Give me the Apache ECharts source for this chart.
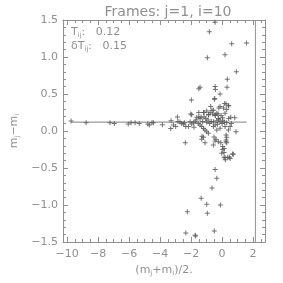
<!DOCTYPE html>
<html><head><meta charset="utf-8">
<script src="https://cdn.jsdelivr.net/npm/echarts@6/dist/echarts.min.js"></script>
<style>html,body{margin:0;padding:0;background:#fff}#c{width:283px;height:283px}</style>
</head><body><div id="c"></div>
<script>
var titleText = 'Frames: j=1, i=10';
var Tij = 0.12;
var dTij = 0.15;
var vlineX = 2.15;
var xRange = [-10.26, 2.77];
var yRange = [-1.5, 1.5];

var highPts = [[-0.45,1.47],[-0.82,1.34],[0.62,1.18],[1.58,1.19],[-0.95,0.99],[0.19,1.03],[0.92,0.80],[0.34,0.70],
[-1.42,0.59],[-1.50,0.57],[-0.45,0.60],[0.32,0.59],[-0.43,0.56],[-0.13,0.50],[-1.98,0.42],[-0.50,0.43],[-0.47,0.44],
[0.17,0.37],[-0.21,0.31],[0.43,0.34],[0.30,0.29]];

var upperPts = [[-1.96,0.22],[-1.5,0.25],[-1.2,0.25],[-0.99,0.27],[-0.65,0.28],
[-1.5,0.19],[-1.42,0.17],[-1.16,0.19],[-1.05,0.17],[-0.86,0.22],[-0.6,0.23],[-0.43,0.21],[-0.26,0.23],[-0.06,0.21],[0.04,0.18],[0.19,0.24],[0.43,0.17],[0.82,0.18],
[-2.88,0.19],[-2.02,0.23],[-1.63,0.185],[-1.35,0.19],[-0.73,0.33],[-0.13,0.33],[0.09,0.31],[0.26,0.365],[0.41,0.34],[-0.34,0.24],[-0.24,0.17],[-0.88,0.22],[-0.77,0.25],[-1.16,0.25],[-0.56,0.28],[-0.45,0.22],[0.56,0.185]];

var linePts = [[-9.74,0.135],[-8.77,0.11],[-7.23,0.11],[-6.95,0.10],[-6.05,0.095],[-5.87,0.11],[-5.61,0.11],[-5.34,0.10],[-4.79,0.095],[-4.69,0.08],[-4.52,0.11],[-4.43,0.11],[-3.85,0.085],[-3.29,0.14],[-3.31,0.035],[-3.14,0.08],[-2.84,0.13],[-2.71,0.12],[-2.6,0.10],[-2.99,0.06],[-2.49,0.095],[-2.43,0.11],[-2.34,0.06],[-2.17,0.06],[-1.96,0.095],[-1.85,0.11],[-1.74,0.125],[-1.53,0.10],[-1.42,0.08],[-1.31,0.06],[-1.2,0.035],[-2.06,0.125],[-1.81,0.05],[-1.68,0.15],
[-1.1,0.014],[-0.99,-0.01],[-0.88,-0.03],
[-0.56,0.125],[-0.34,0.14],[-0.13,0.125],[0.04,0.14],
[-0.56,0.06],[-0.34,0.014],[-0.13,0.036],[0.19,0.06],[0.41,0.014],[0.52,0.06],[0.9,-0.01],
[-1.0,0.12],[-0.8,0.10],[-0.7,0.13],[-0.3,0.09],[0.0,0.10],[0.3,0.11],[-1.25,0.13],[-0.9,0.15],[-0.2,0.16],[0.15,0.12],[0.6,0.10],[-0.45,0.08]];

var negPts = [[-2.37,-0.16],[-1.29,-0.07],[-1.31,-0.11],[-1.2,-0.085],[-1.1,-0.16],
[-0.52,-0.08],[-0.39,-0.11],[-0.24,-0.145],[-0.08,-0.16],[0.04,-0.21],[0.13,-0.235],[0.04,-0.25],
[0.26,-0.054],[0.30,-0.085],[0.26,-0.12],[0.30,-0.16],[0.26,-0.145],
[-0.02,-0.30],[0.13,-0.355],[0.47,-0.355],[0.67,-0.31],
[-0.56,-0.19],[-0.45,-0.135],[0.13,-0.29],[0.19,-0.36],[0.37,-0.355],[0.52,-0.37],[0.73,-0.315],[0.21,-0.39]];

var lowPts = [[-0.45,-0.52],[-0.34,-0.64],[-0.65,-0.77],[-1.35,-0.91],[-0.99,-0.99],[-0.11,-1.0],[-2.24,-1.09],[-0.95,-1.11],[-2.34,-1.38],[-1.74,-1.41],[-1.70,-1.42],[-0.5,-1.35]];

var allPts = highPts.concat(upperPts, linePts, negPts, lowPts);
var xs = allPts.map(function(p){return p[0];});
var hMin = Math.min.apply(null, xs), hMax = Math.max.apply(null, xs);

var FG = '#909090';
var FONT = 'DejaVu Sans';
var plusPath = 'path://M2,0H3V2H5V3H3V5H2V3H0V2H2Z';
function fmt(v){ var s = (Math.abs(v) < 1e-9 ? 0 : v).toString(); return s.replace('-', '\u2212'); }
function fmtY(v){ var s = (Math.abs(v) < 1e-9 ? 0 : v).toFixed(1); return s.replace('-', '\u2212'); }

var axisCommon = {
  axisLine: {show: true, onZero: false, lineStyle: {color: FG, width: 1}},
  axisTick: {show: true, inside: true, length: 5, lineStyle: {color: FG}},
  splitLine: {show: false}
};
var rich = {
  b: {fontFamily: FONT, fontSize: 11, color: FG},
  s: {fontFamily: FONT, fontSize: 7, color: FG, verticalAlign: 'bottom', padding: [6,0,0,0]}
};
var grich = {
  b: {fontFamily: FONT, fontSize: 11, fill: FG},
  s: {fontFamily: FONT, fontSize: 7, fill: FG, verticalAlign: 'bottom', padding: [6,0,0,0]}
};
var xMinor = {show: true, splitNumber: 4, length: 3, lineStyle: {color: FG}};
var yMinor = {show: true, splitNumber: 5, length: 3, lineStyle: {color: FG}};

var chart = echarts.init(document.getElementById('c'), null, {renderer: 'canvas'});
chart.setOption({
  animation: false,
  backgroundColor: '#fff',
  title: {text: titleText, left: 163, top: 0, textAlign: 'center',
    textStyle: {fontFamily: FONT, fontSize: 14, fontWeight: 'normal', color: FG}},
  grid: {left: 63, right: 18, top: 20, bottom: 41, containLabel: false},
  xAxis: [
    Object.assign({type: 'value', position: 'bottom', min: xRange[0], max: xRange[1], splitNumber: 6,
      axisLabel: {formatter: fmt, fontFamily: FONT, fontSize: 11, color: FG, margin: 7, showMinLabel: false, showMaxLabel: false},
      name: '{b|(m}{s|j}{b|+m}{s|i}{b|)/2.}', nameLocation: 'middle', nameGap: 21,
      nameTextStyle: {rich: rich}}, axisCommon, {minorTick: xMinor}),
    Object.assign({type: 'value', position: 'top', min: xRange[0], max: xRange[1], splitNumber: 6,
      axisLabel: {show: false}}, axisCommon, {minorTick: xMinor})
  ],
  yAxis: [
    Object.assign({type: 'value', position: 'left', min: yRange[0], max: yRange[1], interval: 0.5,
      axisLabel: {formatter: fmtY, fontFamily: FONT, fontSize: 11, color: FG, margin: 5},
      name: '{b|m}{s|j}{b|\u2212m}{s|i}', nameLocation: 'middle', nameGap: 33, nameRotate: 90,
      nameTextStyle: {rich: rich}}, axisCommon, {minorTick: yMinor}),
    Object.assign({type: 'value', position: 'right', min: yRange[0], max: yRange[1], interval: 0.5,
      axisLabel: {show: false}}, axisCommon, {minorTick: yMinor})
  ],
  graphic: [
    {type: 'text', left: 71, top: 27, style: {text: '{b|T}{s|ij}{b|:   ' + Tij.toFixed(2) + '}', fill: FG, rich: grich}},
    {type: 'text', left: 71, top: 41, style: {text: '{b|\u03b4T}{s|ij}{b|:   ' + dTij.toFixed(2) + '}', fill: FG, rich: grich}}
  ],
  series: [
    {type: 'line', xAxisIndex: 0, yAxisIndex: 0, data: [[hMin, Tij], [hMax, Tij]], symbol: 'none',
      lineStyle: {color: '#808080', width: 1}, z: 2, silent: true},
    {type: 'line', xAxisIndex: 0, yAxisIndex: 0, data: [[vlineX, yRange[0]], [vlineX, yRange[1]]], symbol: 'none',
      lineStyle: {color: FG, width: 1}, z: 2, silent: true},
    {type: 'scatter', xAxisIndex: 0, yAxisIndex: 0, data: allPts, symbol: plusPath, symbolSize: 5,
      itemStyle: {color: '#5a5a5a', opacity: 0.85}, z: 3, silent: true}
  ]
});
</script></body></html>
